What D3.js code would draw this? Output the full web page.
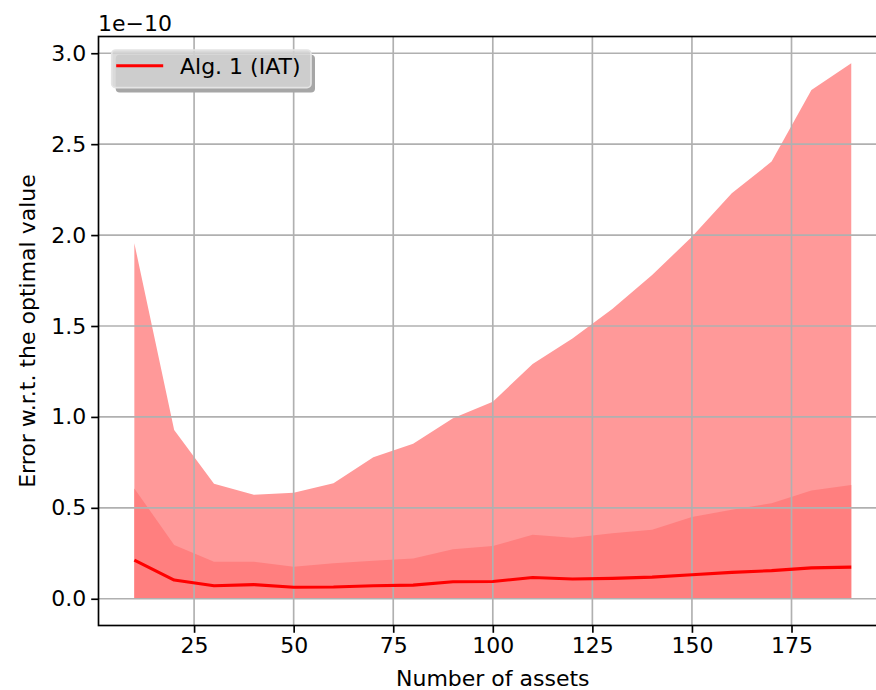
<!DOCTYPE html>
<html>
<head>
<meta charset="utf-8">
<script src="https://cdn.jsdelivr.net/npm/d3@7"></script>
<style>
  body { margin: 0; background: #fff; }
  svg { font-family: "DejaVu Sans", sans-serif; }
</style>
</head>
<body>
<svg id="chart" width="876" height="690"></svg>
<script>
// values are in units of 1e-10
var assets = [10, 20, 30, 40, 50, 60, 70, 80, 90, 100, 110, 120, 130, 140, 150, 160, 170, 180, 190];
var upperBand = [1.955, 0.928, 0.633, 0.572, 0.583, 0.635, 0.778, 0.853, 0.993, 1.084, 1.291, 1.431, 1.593, 1.780, 1.991, 2.230, 2.404, 2.798, 2.945];
var lowerBand = [0.607, 0.295, 0.204, 0.204, 0.176, 0.195, 0.209, 0.222, 0.272, 0.290, 0.352, 0.335, 0.360, 0.380, 0.450, 0.490, 0.525, 0.596, 0.625];
var meanError = [0.213, 0.103, 0.072, 0.078, 0.063, 0.065, 0.072, 0.075, 0.094, 0.095, 0.117, 0.109, 0.112, 0.119, 0.132, 0.145, 0.155, 0.170, 0.174];
var xTicks = [25, 50, 75, 100, 125, 150, 175];
var yTicks = [0, 0.5, 1.0, 1.5, 2.0, 2.5, 3.0];
var seriesName = "Alg. 1 (IAT)";

var svg = d3.select('#chart');
var fontSize = 22;

var x = d3.scaleLinear().domain([1, 199]).range([98.5, 887.1]);
var y = d3.scaleLinear().domain([-0.147, 3.092]).range([625.5, 36.5]);

var rows = assets.map(function(a, i) {
  return {x: a, up: upperBand[i], low: lowerBand[i], mean: meanError[i]};
});

// light band
svg.append('path')
  .datum(rows)
  .attr('fill', '#ff9999')
  .attr('d', d3.area().x(function(d) { return x(d.x); }).y0(y(0)).y1(function(d) { return y(d.up); }));

// darker band
svg.append('path')
  .datum(rows)
  .attr('fill', '#ff7f7f')
  .attr('d', d3.area().x(function(d) { return x(d.x); }).y0(y(0)).y1(function(d) { return y(d.low); }));

// grid on top of the fills
var grid = svg.append('g').attr('stroke', '#b0b0b0').attr('stroke-width', 1.67);
xTicks.forEach(function(t) {
  grid.append('line').attr('x1', x(t)).attr('x2', x(t)).attr('y1', y.range()[0]).attr('y2', y.range()[1]);
});
yTicks.forEach(function(t) {
  grid.append('line').attr('x1', x.range()[0]).attr('x2', x.range()[1]).attr('y1', y(t)).attr('y2', y(t));
});

// mean line
svg.append('path')
  .datum(rows)
  .attr('fill', 'none')
  .attr('stroke', '#ff0000')
  .attr('stroke-width', 3.1)
  .attr('stroke-linejoin', 'round')
  .attr('d', d3.line().x(function(d) { return x(d.x); }).y(function(d) { return y(d.mean); }));

// axes
var xAxis = d3.axisBottom(x).tickValues(xTicks).tickSize(7.3).tickPadding(5).tickFormat(d3.format('d'));
var yAxis = d3.axisLeft(y).tickValues(yTicks).tickSize(7.3).tickPadding(5).tickFormat(d3.format('.1f'));

var gx = svg.append('g').attr('transform', 'translate(0,' + y.range()[0] + ')').call(xAxis);
var gy = svg.append('g').attr('transform', 'translate(' + x.range()[0] + ',0)').call(yAxis);
[gx, gy].forEach(function(g) {
  g.select('.domain').remove();
  g.selectAll('.tick line').attr('stroke', '#000').attr('stroke-width', 1.67);
  g.selectAll('.tick text').attr('fill', '#000').style('font-size', fontSize + 'px').style('font-family', 'DejaVu Sans');
});

// spines
svg.append('rect')
  .attr('x', x.range()[0]).attr('y', y.range()[1])
  .attr('width', x.range()[1] - x.range()[0]).attr('height', y.range()[0] - y.range()[1])
  .attr('fill', 'none').attr('stroke', '#000').attr('stroke-width', 1.67);

// offset text
svg.append('text').attr('x', 98).attr('y', 31).style('font-size', fontSize + 'px').text('1e\u221210');

// labels
svg.append('text')
  .attr('x', (x.range()[0] + x.range()[1]) / 2).attr('y', 686)
  .attr('text-anchor', 'middle').style('font-size', fontSize + 'px')
  .text('Number of assets');
svg.append('text')
  .attr('transform', 'translate(35,' + ((y.range()[0] + y.range()[1]) / 2) + ') rotate(-90)')
  .attr('text-anchor', 'middle').style('font-size', fontSize + 'px')
  .text('Error w.r.t. the optimal value');

// legend
var legend = svg.append('g').attr('transform', 'translate(111.7,50)');
legend.append('rect').attr('x', 4).attr('y', 4.7).attr('width', 199.3).attr('height', 37.7).attr('rx', 4)
  .attr('fill', '#a6a6a6');
legend.append('rect').attr('width', 199.3).attr('height', 37.7).attr('rx', 4)
  .attr('fill', '#d3d3d3').attr('fill-opacity', 0.85)
  .attr('stroke', '#e4e4e4').attr('stroke-width', 1.67);
legend.append('line').attr('x1', 4.5).attr('x2', 51.5).attr('y1', 15.7).attr('y2', 15.7)
  .attr('stroke', '#ff0000').attr('stroke-width', 3.1);
legend.append('text').attr('x', 68.3).attr('y', 24.3).style('font-size', fontSize + 'px').text(seriesName);
</script>
</body>
</html>
